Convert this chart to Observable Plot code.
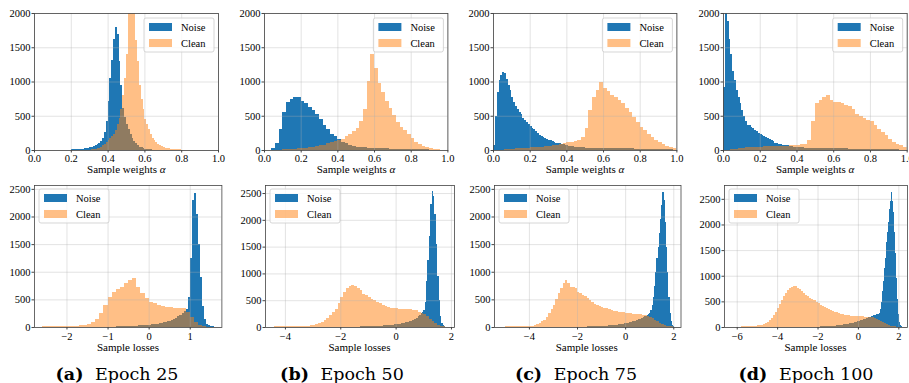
<!DOCTYPE html>
<html><head><meta charset="utf-8">
<script src="https://cdn.jsdelivr.net/npm/d3@7"></script>
<script src="https://cdn.jsdelivr.net/npm/@observablehq/plot@0.6"></script>
<style>
html,body{margin:0;padding:0;background:#fff;}
#fig{position:relative;width:909px;height:383px;overflow:hidden;background:#fff;}
#fig svg{position:absolute;overflow:visible;}
</style></head><body><div id="fig"></div>
<script>
// ---------- labels ----------
const letters = ["(a)", "(b)", "(c)", "(d)"];
const epochs = ["Epoch 25", "Epoch 50", "Epoch 75", "Epoch 100"];
const seriesNames = ["Noise", "Clean"];
const weightXLabel = "Sample weights ";
const lossXLabel = "Sample losses";
const weightXTicks = [0, 0.2, 0.4, 0.6, 0.8, 1.0];
const weightYTicks = [0, 500, 1000, 1500, 2000];
const lossYTicks = [0, 500, 1000, 1500, 2000, 2500];
const lossXTicks = [[-2, -1, 0, 1], [-4, -2, 0, 2], [-4, -2, 0, 2], [-6, -4, -2, 0, 2]];

// ---------- sample weights histograms: [start, step] + counts ----------
const wNoise25Bins = [0.10, 0.01];
const wNoise25 = [2,2,3,3,4,4,5,5,6,7, 8,9,10,12,14,16,20,24,28,34, 40,48,58,70,85,100,130,170,260,420,
  720,1050,1320,1620,1800,1700,1300,950,620,480, 380,300,230,180,130,95,70,50,38,28, 20,15,11,8,6,4,3,2,2,1];
const wClean25Bins = [0.30, 0.01];
const wClean25 = [5,8,12,18,26,36,50,68,90,120, 150,180,200,240,290,380,460,600,800,1050,
  1400,2100,2300,2300,2050,1600,1300,950,750,600, 450,380,300,240,180,140,110,85,68,55,
  44,36,30,24,20,16,13,11,9,8, 7,6,5,4,3,3,2,2,1,1];

const wNoise50Bins = [0.0, 0.02];
const wNoise50 = [0,3,25,100,300,560,700,750,780,770, 720,680,630,590,520,450,370,300,240,200,
  155,120,95,70,55,45,42,38,34,30, 28,26,24,22,20,18,17,16,15,14, 12,11,10,9,8,7,6,5,4,2];
const wClean50Bins = [0.0, 0.02];
const wClean50 = [0,0,2,4,6,8,12,16,20,25, 30,36,42,50,60,70,80,95,110,130,
  150,165,200,230,270,320,420,600,1000,1400, 1200,980,840,720,610,510,410,340,290,230,
  170,120,90,65,48,32,20,12,7,3];

const wNoise75Bins = [0.0, 0.01];
const wNoise75 = [70,500,850,1020,1100,1140,1120,1040,950,870, 780,700,640,600,550,520,470,440,410,380,
  350,320,300,270,250,220,205,190,175,165, 150,140,125,115,105,100,95,88,83,75,
  68,62,58,54,48,44,42,40,39,38, 36,35,34,33,33,32,32,31,31,30, 30,29,29,28,28,27,27,26,26,25,
  25,24,24,23,23,22,22,21,21,20, 20,19,19,18,18,17,16,16,15,15, 14,13,12,12,11,10,9,8,7,5];
const wClean75Bins = [0.0, 0.02];
const wClean75 = [0,2,5,10,14,18,22,26,30,34, 38,42,46,50,55,60,68,78,88,100,
  110,120,130,150,190,320,580,780,880,990, 900,860,810,780,730,680,610,560,480,410,
  340,290,240,190,150,115,90,62,42,22];

const wNoise100Bins = [0.0, 0.01];
const wNoise100 = [920,2050,1880,1620,1400,1160,1020,870,770,680, 580,500,430,370,360,340,320,290,270,245,
  230,215,200,190,175,160,140,125,105,98, 92,85,80,75,72,68,60,55,50,45, 42,40,38,37,36,35,34,33,32,31,
  30,30,29,29,28,28,27,27,26,26, 25,25,24,24,23,23,22,22,21,21, 20,20,19,19,18,18,17,17,16,16,
  15,15,14,14,13,13,12,12,11,11, 10,10,9,9,8,8,7,6,5,4];
const wClean100Bins = [0.0, 0.02];
const wClean100 = [0,5,12,20,28,34,38,42,45,48, 50,52,54,56,58,60,62,65,68,72,
  78,82,88,150,420,690,730,780,800,730, 700,700,680,655,640,600,530,495,460,435,
  420,360,310,265,215,165,118,92,68,44];

// ---------- sample loss histograms: [start, step] + counts ----------
const lNoise25Bins = [-1.0, 0.05];
const lNoise25 = [5,6,7,8,9,10,11,12,13,15, 17,19,21,23,25,28,31,34,37,40, 43,47,51,56,62,68,75,83,92,102,
  115,128,145,165,190,220,255,290,320,550, 1250,2300,2430,2050,1500,900,380,140,60,30, 18,10,5,2];
const lClean25Bins = [-2.6, 0.1];
const lClean25 = [15,16,16,17,17,18,19,20,24,30, 40,60,95,150,250,400,550,640,680,730,
  790,850,890,730,610,520,460,430,400,380, 365,355,335,350,335,280,180,90,42,18, 8,3];

const lNoise50Bins = [-1.5, 0.05];
const lNoise50 = [8,8,9,9,10,10,11,11,12,12, 13,14,15,16,17,18,19,20,22,24, 26,28,30,32,34,36,38,41,44,47,
  50,54,58,63,68,74,80,87,94,102, 110,120,130,142,155,170,200,225,255,280,
  320,460,850,1250,1700,2300,2530,2450,2100,1550, 950,500,200,80,30,10,3];
const lClean50Bins = [-4.6, 0.1];
const lClean50 = [8,9,10,10,11,12,12,13,14,15, 16,18,20,23,27,32,38,50,70,95,
  125,170,220,280,345,440,560,660,720,765, 780,765,720,690,625,595,560,530,500,470,
  440,410,390,375,362,355,348,344,344,342, 335,330,325,315,285,270,250,200,155,110, 75,45,25,12,5,2];

const lNoise75Bins = [-2.0, 0.05];
const lNoise75 = [6,6,7,7,8,8,9,9,10,10, 11,11,12,12,13,14,15,16,17,18, 19,20,21,22,24,26,28,30,32,34,
  36,38,41,44,47,50,53,56,60,64, 68,72,77,82,88,94,100,107,114,122, 130,138,147,157,168,180,192,205,215,235,
  250,300,400,550,750,1000,1250,1450,1700,1950, 2200,2440,2300,1900,1450,1000,550,250,100,40, 15,5];
const lClean75Bins = [-5.3, 0.1];
const lClean75 = [8,9,9,10,10,11,11,12,13,14, 15,16,18,20,26,40,55,75,100,135,
  180,245,320,400,510,610,700,790,850,790, 730,715,700,640,610,580,560,520,490,455,
  425,400,380,365,350,335,320,305,295,285, 278,273,267,261,255,248,243,238,232,228,
  222,215,205,185,160,135,105,75,50,36, 25,18,10,6,2];

const lNoise100Bins = [-2.5, 0.05];
const lNoise100 = [4,4,5,5,6,6,7,7,8,8, 9,9,10,10,11,12,13,14,15,16, 17,18,19,21,23,25,27,29,31,33,
  35,37,40,43,46,49,52,55,58,62, 66,70,74,78,82,87,92,97,102,108, 114,120,127,134,141,148,156,164,172,180,
  188,196,204,212,220,228,236,242,248,255, 250,280,350,480,700,900,1150,1350,1650,1850,
  2050,2300,2450,2640,2450,2250,1850,1450,950,550, 250,90,35,12,4];
const lClean100Bins = [-6.3, 0.1];
const lClean100 = [5,6,7,8,9,10,11,12,13,15, 17,20,24,30,38,48,62,80,105,140,
  185,240,300,370,440,520,600,670,720,760, 785,800,795,770,740,700,660,630,600,575,
  545,520,490,460,430,405,385,365,350,335, 315,295,285,272,262,252,243,235,228,222,
  216,210,208,208,207,205,202,199,197,196, 195,185,165,140,115,92,70,50,36,28, 18,10,5,2];

// ---------- helpers ----------
function toBins([start, step], counts) {
  return counts.map((c, i) => ({x0: start + i * step, x1: start + (i + 1) * step, c}));
}
const NOISE = "#1f77b4", CLEAN = "#ff7f0e";
const SERIF = "'Liberation Serif', 'Times New Roman', Times, 'DejaVu Serif', serif";
const fig = document.getElementById("fig");

function addLegend(svg, bx, by) {
  const g = d3.select(svg).append("g").attr("font-family", SERIF).attr("font-size", 10.5).attr("text-anchor", "start");
  g.append("rect").attr("x", bx).attr("y", by).attr("width", 70).attr("height", 34).attr("rx", 2)
    .attr("fill", "#fff").attr("fill-opacity", 0.8).attr("stroke", "#cccccc").attr("stroke-width", 0.8);
  g.append("rect").attr("x", bx + 5).attr("y", by + 5).attr("width", 23).attr("height", 8).attr("fill", NOISE);
  g.append("rect").attr("x", bx + 5).attr("y", by + 21).attr("width", 23).attr("height", 8).attr("fill", CLEAN).attr("fill-opacity", 0.5);
  g.append("text").attr("x", bx + 37).attr("y", by + 13).attr("fill", "#000").attr("text-anchor", "start").text(seriesNames[0]);
  g.append("text").attr("x", bx + 37).attr("y", by + 29).attr("fill", "#000").attr("text-anchor", "start").text(seriesNames[1]);
}

function drawPanel(o) {
  const ml = 34, mr = 2, mt = 4, mb = 22;
  const w = o.r - o.l, h = o.b - o.t;
  const gridStyle = {stroke: "#b0b0b0", strokeOpacity: 0.45, strokeWidth: 0.8};
  const svg = Plot.plot({
    width: w + ml + mr, height: h + mt + mb,
    marginLeft: ml, marginRight: mr, marginTop: mt, marginBottom: mb,
    style: {fontFamily: SERIF, fontSize: "10.5px", color: "#000", background: "none", overflow: "visible"},
    x: {domain: o.xDomain},
    y: {domain: [0, o.yMax]},
    marks: [
      Plot.rect(o.noise, {x1: "x0", x2: "x1", y1: 0, y2: "c", fill: NOISE, clip: true, shapeRendering: "crispEdges"}),
      Plot.rect(o.clean, {x1: "x0", x2: "x1", y1: 0, y2: "c", fill: CLEAN, fillOpacity: 0.5, clip: true, shapeRendering: "crispEdges"}),
      Plot.gridX(o.xTicks, gridStyle),
      Plot.gridY(o.yTicks, gridStyle),
      Plot.frame({stroke: "#444", strokeWidth: 0.8}),
      Plot.axisX(o.xTicks, {tickFormat: o.xFmt, tickSize: 2.5, tickPadding: o.xPad, label: null, stroke: "#444", fontFamily: SERIF}),
      Plot.axisY(o.yTicks, {tickFormat: "d", tickSize: 2.5, tickPadding: 1.5, label: null, stroke: "#444", fontFamily: SERIF})
    ]
  });
  svg.style.left = (o.l - ml) + "px";
  svg.style.top = (o.t - mt) + "px";
  svg.style.fontFamily = SERIF;
  if (o.legend === "right") addLegend(svg, ml + w - 74, mt + 5);
  else addLegend(svg, ml + 5, mt + 4);
  fig.appendChild(svg);
}

// ---------- layout ----------
const topFrames = [[34.3, 218.3], [264.3, 447.7], [493.3, 676.7], [723.3, 907]];
const botFrames = [[34.3, 221.7], [265, 454], [493.5, 680], [724, 907]];
const lossDomains = [[-2.79, 1.77], [-4.72, 2.11], [-5.45, 2.30], [-6.63, 2.43]];
const lossYMax = [2570, 2650, 2570, 2770];
const captionX = [117, 342, 576, 806];

const wNoise = [toBins(wNoise25Bins, wNoise25), toBins(wNoise50Bins, wNoise50), toBins(wNoise75Bins, wNoise75), toBins(wNoise100Bins, wNoise100)];
const wClean = [toBins(wClean25Bins, wClean25), toBins(wClean50Bins, wClean50), toBins(wClean75Bins, wClean75), toBins(wClean100Bins, wClean100)];
const lNoise = [toBins(lNoise25Bins, lNoise25), toBins(lNoise50Bins, lNoise50), toBins(lNoise75Bins, lNoise75), toBins(lNoise100Bins, lNoise100)];
const lClean = [toBins(lClean25Bins, lClean25), toBins(lClean50Bins, lClean50), toBins(lClean75Bins, lClean75), toBins(lClean100Bins, lClean100)];

for (let i = 0; i < 4; i++) {
  drawPanel({l: topFrames[i][0], r: topFrames[i][1], t: 13, b: 150, xDomain: [0, 1], yMax: 2000,
    xTicks: weightXTicks, yTicks: weightYTicks, xFmt: ".1f", xPad: 1.5,
    noise: wNoise[i], clean: wClean[i], legend: "right"});
  drawPanel({l: botFrames[i][0], r: botFrames[i][1], t: 185, b: 327, xDomain: lossDomains[i], yMax: lossYMax[i],
    xTicks: lossXTicks[i], yTicks: lossYTicks, xFmt: "d", xPad: 3,
    noise: lNoise[i], clean: lClean[i], legend: "left"});
}

// ---------- axis titles and captions ----------
const ov = d3.create("svg").attr("width", 909).attr("height", 383).style("left", "0px").style("top", "0px");
for (let i = 0; i < 4; i++) {
  const tc = (topFrames[i][0] + topFrames[i][1]) / 2;
  const t1 = ov.append("text").attr("x", tc).attr("y", 172.5).attr("text-anchor", "middle")
    .attr("font-family", SERIF).attr("font-size", 11).attr("fill", "#000");
  t1.append("tspan").text(weightXLabel);
  t1.append("tspan").attr("font-style", "italic").text("α");
  const bc = (botFrames[i][0] + botFrames[i][1]) / 2;
  ov.append("text").attr("x", bc).attr("y", 351).attr("text-anchor", "middle")
    .attr("font-family", SERIF).attr("font-size", 11).attr("fill", "#000").text(lossXLabel);
  const cap = ov.append("text").attr("x", captionX[i]).attr("y", 380).attr("text-anchor", "middle")
    .attr("font-family", "'DejaVu Serif', serif").attr("font-size", 17.5).attr("fill", "#000");
  cap.append("tspan").attr("font-weight", "bold").text(letters[i]);
  cap.append("tspan").attr("dx", 6).text(" " + epochs[i]);
}
fig.appendChild(ov.node());
</script></body></html>
